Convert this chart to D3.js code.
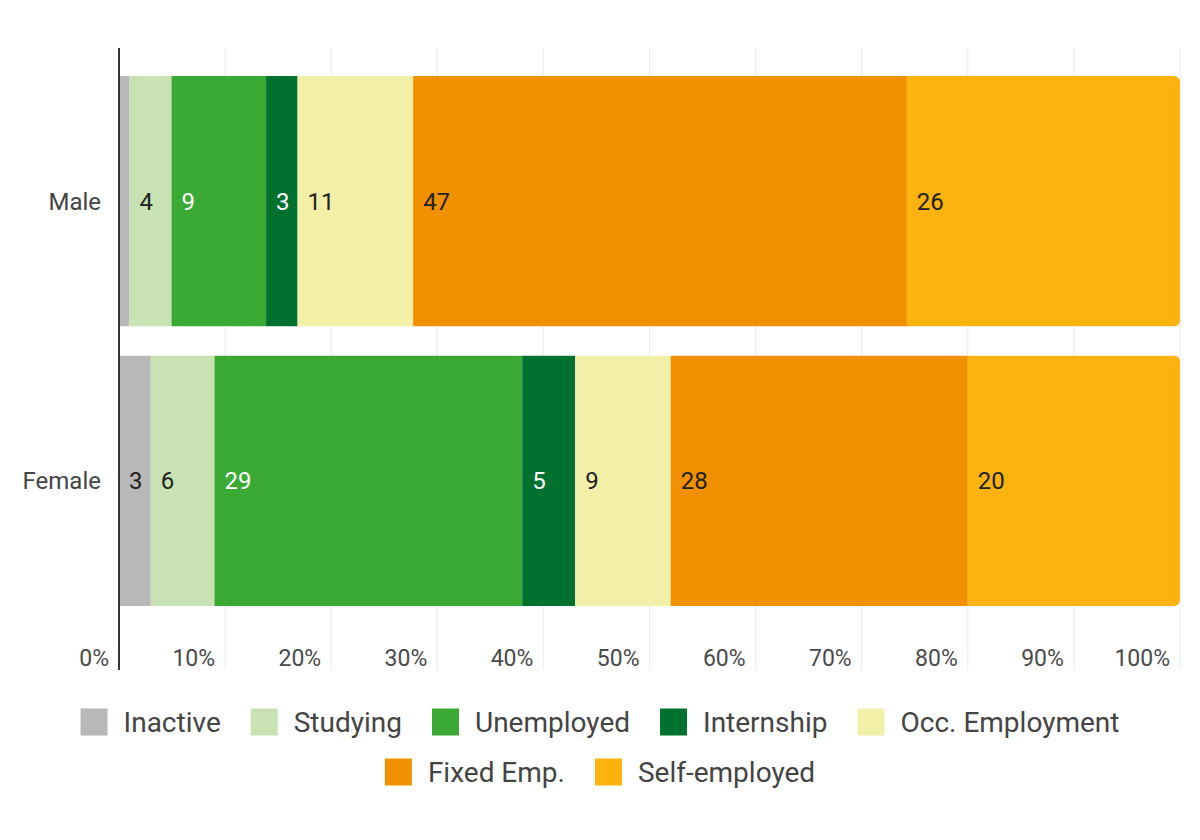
<!DOCTYPE html>
<html>
<head>
<meta charset="utf-8">
<script src="https://cdn.jsdelivr.net/npm/d3@7"></script>
<style>
  body { margin: 0; background: #fff; }
  svg { font-family: Roboto, "Noto Sans", sans-serif; }
</style>
</head>
<body>
<svg id="chart" width="1200" height="840"></svg>
<script>
const groups = ['Male', 'Female'];
const categories = ['Inactive', 'Studying', 'Unemployed', 'Internship', 'Occ. Employment', 'Fixed Emp.', 'Self-employed'];
const maleValues = [1, 4, 9, 3, 11, 47, 26];
const femaleValues = [3, 6, 29, 5, 9, 28, 20];
const tickValues = [0, 10, 20, 30, 40, 50, 60, 70, 80, 90, 100];
const palette = ['#b8b8b8', '#c9e2b3', '#3aaa35', '#00712f', '#f2efa9', '#f19100', '#fcb20f'];
const lightText = ['Unemployed', 'Internship'];

const seriesByGroup = { Male: maleValues, Female: femaleValues };

const rows = groups.map(g => {
  const vals = seriesByGroup[g];
  const total = d3.sum(vals);
  let acc = 0;
  return {
    group: g,
    segs: vals.map((v, i) => {
      const s = { key: categories[i], value: v, x0: acc / total * 100, x1: (acc + v) / total * 100 };
      acc += v;
      return s;
    })
  };
});

const chart = d3.select('#chart');

const x = d3.scaleLinear().domain([0, 100]).range([119, 1180]);
const y = d3.scaleBand().domain(groups).range([62, 620]).paddingInner(0.104).paddingOuter(0.05);
const color = d3.scaleOrdinal().domain(categories).range(palette);

// gridlines
chart.append('g')
  .selectAll('line')
  .data(tickValues.slice(1))
  .enter().append('line')
    .attr('x1', d => x(d)).attr('x2', d => x(d))
    .attr('y1', 48).attr('y2', 670)
    .attr('stroke', '#ebebeb')
    .attr('stroke-width', 1);

// tick labels
chart.append('g')
  .selectAll('text')
  .data(tickValues)
  .enter().append('text')
    .attr('x', d => x(d) - 10)
    .attr('y', 666)
    .attr('text-anchor', 'end')
    .attr('font-size', 23)
    .attr('fill', '#4a4a4a')
    .text(d => d + '%');

const defs = chart.append('defs');

rows.forEach((r, ri) => {
  defs.append('clipPath')
    .attr('id', 'clip' + ri)
    .append('rect')
      .attr('x', x(0) - 20)
      .attr('y', y(r.group))
      .attr('width', x(100) - x(0) + 20)
      .attr('height', y.bandwidth())
      .attr('rx', 6);
});

const bar = chart.selectAll('g.bar')
  .data(rows)
  .enter().append('g')
    .attr('class', 'bar');

bar.append('g')
  .attr('clip-path', (d, i) => `url(#clip${i})`)
  .selectAll('rect')
  .data(d => d.segs.map(s => Object.assign({ group: d.group }, s)))
  .enter().append('rect')
    .attr('x', d => x(d.x0))
    .attr('y', d => y(d.group))
    .attr('width', d => x(d.x1) - x(d.x0))
    .attr('height', y.bandwidth())
    .attr('fill', d => color(d.key));

bar.selectAll('text.val')
  .data(d => d.segs.filter(s => x(s.x1) - x(s.x0) > 20).map(s => Object.assign({ group: d.group }, s)))
  .enter().append('text')
    .attr('class', 'val')
    .attr('x', d => x(d.x0) + 10)
    .attr('y', d => y(d.group) + y.bandwidth() / 2)
    .attr('dy', '0.36em')
    .attr('font-size', 24)
    .attr('fill', d => lightText.includes(d.key) ? '#ffffff' : '#222')
    .text(d => d.value);

// category labels
chart.append('g')
  .selectAll('text')
  .data(groups)
  .enter().append('text')
    .attr('x', 101)
    .attr('y', d => y(d) + y.bandwidth() / 2)
    .attr('dy', '0.36em')
    .attr('text-anchor', 'end')
    .attr('font-size', 24)
    .attr('fill', '#444')
    .text(d => d);

// axis line
chart.append('line')
  .attr('x1', x(0)).attr('x2', x(0))
  .attr('y1', 48).attr('y2', 670)
  .attr('stroke', '#333')
  .attr('stroke-width', 2);

// legend
const legendRows = [categories.slice(0, 5), categories.slice(5)];
const sq = 27, gapText = 16, gapItem = 30;
legendRows.forEach((items, li) => {
  const cy = 722 + li * 50;
  const lg = chart.append('g');
  const item = lg.selectAll('g')
    .data(items)
    .enter().append('g');
  item.append('rect')
    .attr('width', sq).attr('height', sq)
    .attr('y', cy - sq / 2)
    .attr('fill', d => color(d));
  item.append('text')
    .attr('x', sq + gapText)
    .attr('y', cy)
    .attr('dy', '0.36em')
    .attr('font-size', 28)
    .attr('fill', '#444')
    .text(d => d);
  let cx = 0;
  const widths = [];
  item.each(function() {
    widths.push(sq + gapText + d3.select(this).select('text').node().getComputedTextLength());
  });
  const total = d3.sum(widths) + gapItem * (widths.length - 1);
  cx = 600 - total / 2;
  item.each(function(d, i) {
    d3.select(this).attr('transform', `translate(${cx}, 0)`);
    cx += widths[i] + gapItem;
  });
});
</script>
</body>
</html>
